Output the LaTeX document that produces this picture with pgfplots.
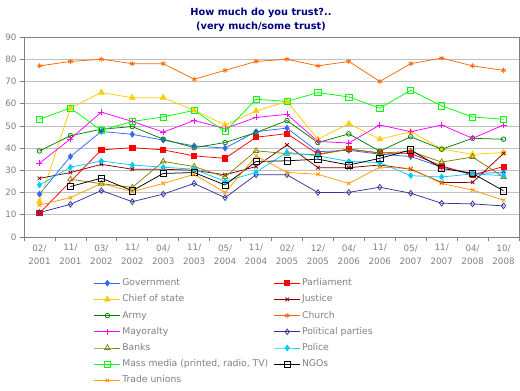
\documentclass[border=0pt]{standalone}
\usepackage{fontspec}
\setmainfont{DejaVu Sans}
\usepackage{pgfplots}
\pgfplotsset{compat=1.18}
\definecolor{cgov}{RGB}{51,102,255}
\definecolor{cparl}{RGB}{255,0,0}
\definecolor{cchief}{RGB}{255,204,0}
\definecolor{cjust}{RGB}{128,0,0}
\definecolor{carmy}{RGB}{0,128,0}
\definecolor{cchurch}{RGB}{255,102,0}
\definecolor{cmayor}{RGB}{255,0,255}
\definecolor{cparty}{RGB}{51,51,153}
\definecolor{cbank}{RGB}{128,128,0}
\definecolor{cpolice}{RGB}{0,204,255}
\definecolor{cmedia}{RGB}{0,255,0}
\definecolor{ctrade}{RGB}{255,153,0}
\definecolor{ctitle}{RGB}{0,0,128}
\definecolor{ctext}{RGB}{128,128,128}
\definecolor{cgrid}{RGB}{192,192,192}
\begin{document}
\begin{tikzpicture}[x=1bp,y=1bp]
\useasboundingbox (0,0) rectangle (520,390);
\node[align=center, font=\fontsize{9.8}{14.5}\selectfont\bfseries, text=ctitle] at (261,370) {How much do you trust?..\\(very much/some trust)};
\begin{axis}[
  at={(24bp,153bp)}, anchor=south west,
  scale only axis, width=495bp, height=200bp,
  xmin=-0.5, xmax=15.5, ymin=0, ymax=90,
  ytick={0,10,...,90},
  xtick={0,...,15},
  xticklabels={{02/\\2001},{11/\\2001},{03/\\2002},{11/\\2002},{04/\\2003},{11/\\2003},{05/\\2004},{11/\\2004},{02/\\2005},{12/\\2005},{04/\\2006},{11/\\2006},{05/\\2007},{11/\\2007},{04/\\2008},{10/\\2008}},
  xticklabel style={align=center, font=\fontsize{8.8}{13.5}\selectfont, text=ctext},
  yticklabel style={font=\fontsize{8.8}{10}\selectfont, text=ctext},
  minor xtick={-0.5,0.5,...,15.5},
  major x tick style={draw=none},
  ymajorgrids, grid style={draw=cgrid, line width=0.75bp},
  axis line style={draw=ctext, line width=0.75bp},
  tick style={draw=ctext, line width=0.75bp},
  tick align=outside,
  major tick length=4bp, minor tick length=4bp,
  xtick pos=bottom, ytick pos=left,
  /pgf/number format/assume math mode=true,
  every axis plot/.append style={line width=0.75bp},
  legend columns=2,
  legend cell align=left,
  legend style={at={(axis description cs:0.135,-0.195)}, anchor=north west, draw=none, fill=none,
    font=\fontsize{9.3}{11}\selectfont, text=ctext, row sep=6.2bp,
    nodes={inner xsep=1.5bp, inner ysep=0bp, text height=7.5bp, text depth=2.5bp},
    /tikz/every even column/.append style={column sep=4bp}},
  legend image code/.code={\draw[mark repeat=2,mark phase=2,#1] plot coordinates {(0bp,0bp) (13bp,0bp) (26bp,0bp)};},
]
% Government
\addplot[cgov, mark=diamond*, mark size=2.8bp, mark options={fill=cgov, solid}] coordinates {
(0,19.3)(1,36.2)(2,47.5)(3,46.2)(4,43.6)(5,41)(6,40)(7,47.4)(8,49)(9,38.4)(10,39)(11,37.3)(12,36.2)(13,31.5)(14,28.6)(15,29)};
\addlegendentry{Government}
% Parliament
\addplot[cparl, mark=square*, mark size=2.6bp, mark options={fill=cparl}] coordinates {
(0,10.7)(2,39.2)(3,40.2)(4,39.2)(5,36.5)(6,35.4)(7,44.9)(8,46.5)(9,37.3)(10,39.5)(11,37.8)(12,37.6)(13,32)(14,27.9)(15,31.7)};
\addlegendentry{Parliament}
% Chief of state
\addplot[cchief, mark=triangle*, mark size=3.2bp, mark options={fill=cchief}] coordinates {
(0,16)(1,58)(2,65)(3,62.7)(4,62.7)(5,57)(6,50.4)(7,56.7)(8,61)(9,44)(10,51)(11,44)(12,47.4)(13,39.6)(14,37.2)(15,38)};
\addlegendentry{Chief of state}
% Justice
\addplot[cjust, mark=x, mark size=2.6bp] coordinates {
(0,26.4)(1,29)(2,32.7)(3,30.5)(4,30.5)(5,30)(6,28)(7,31.7)(8,41.4)(9,31.2)(10,31.2)(11,32.4)(12,30.5)(13,24.5)(14,24.6)(15,37.6)};
\addlegendentry{Justice}
% Army
\addplot[carmy, mark=o, mark size=2.3bp, mark options={fill=white}] coordinates {
(0,38.7)(1,45.6)(2,48.5)(3,49.7)(4,44)(5,40.2)(6,42.5)(7,47)(8,52.4)(9,42.5)(10,46.4)(11,38.6)(12,45.1)(13,39.5)(14,44.4)(15,44)};
\addlegendentry{Army}
% Church
\addplot[cchurch, mark=asterisk, mark size=2.6bp] coordinates {
(0,77)(1,79)(2,80)(3,78)(4,78)(5,71)(6,75)(7,79)(8,80)(9,77)(10,79)(11,70)(12,78)(13,80.5)(14,77)(15,75)};
\addlegendentry{Church}
% Mayoralty
\addplot[cmayor, mark=+, mark size=3bp] coordinates {
(0,33.2)(1,44.1)(2,56.2)(3,52)(4,47.2)(5,52.4)(6,48.8)(7,53.8)(8,55.2)(9,43)(10,42.3)(11,50.4)(12,47.4)(13,50.4)(14,44.4)(15,50.4)};
\addlegendentry{Mayoralty}
% Political parties
\addplot[cparty, mark=diamond, mark size=2.8bp, mark options={fill=white}] coordinates {
(0,11)(1,14.7)(2,20.9)(3,15.9)(4,19.3)(5,24.1)(6,17.7)(7,28)(8,28)(9,20)(10,20.1)(11,22.4)(12,19.7)(13,15.2)(14,14.9)(15,14)};
\addlegendentry{Political parties}
% Banks
\addplot[cbank, mark=triangle, mark size=3.2bp, mark options={fill=white}] coordinates {
(1,26)(2,24)(3,22.3)(4,34)(5,31.7)(6,27)(7,38.8)(8,37.5)(9,37)(10,39.6)(11,37.8)(12,38.5)(13,33.7)(14,36)(15,27)};
\addlegendentry{Banks}
% Police
\addplot[cpolice, mark=diamond*, mark size=2.8bp, mark options={fill=cpolice}] coordinates {
(0,23.4)(1,31.4)(2,34.2)(3,32.4)(4,31.4)(5,30.5)(6,25)(7,29.1)(8,38.1)(9,36.5)(10,34)(11,33.5)(12,27.6)(13,27)(14,28.4)(15,27.6)};
\addlegendentry{Police}
% Mass media
\addplot[cmedia, mark=square, mark size=3.1bp, mark options={fill=white}] coordinates {
(0,53)(1,58)(2,48)(3,52)(4,54)(5,57)(6,47.4)(7,62)(8,61)(9,65)(10,63)(11,58)(12,66)(13,59)(14,54)(15,53)};
\addlegendentry{Mass media (printed, radio, TV)}
% NGOs
\addplot[black, mark=square, mark size=3.1bp, mark options={fill=white}] coordinates {
(1,22.7)(2,26.5)(3,20.8)(4,28.6)(5,29)(6,23.4)(7,34)(8,34.3)(9,35)(10,32.4)(11,35.4)(12,39.2)(13,30.9)(14,28.6)(15,20.8)};
\addlegendentry{NGOs}
% Trade unions
\addplot[ctrade, mark=x, mark size=2.6bp] coordinates {
(0,14.4)(1,17.7)(2,24.1)(3,20.4)(4,24.1)(5,28.2)(6,20)(7,36.5)(8,29.1)(9,28.2)(10,24.1)(11,31.4)(12,30.9)(13,24.1)(14,21.1)(15,16.6)};
\addlegendentry{Trade unions}
\end{axis}
\end{tikzpicture}
\end{document}
